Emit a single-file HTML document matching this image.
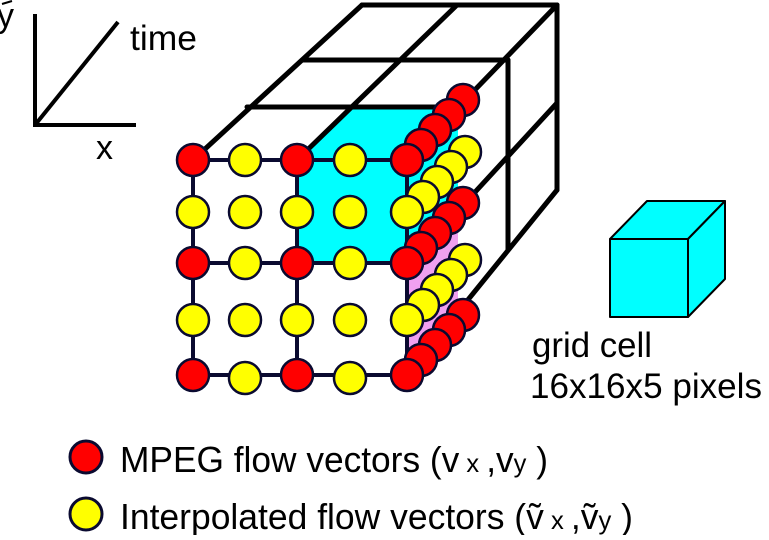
<!DOCTYPE html>
<html><head><style>
body{margin:0;background:#fff;}
svg text{font-family:"Liberation Sans",Arial,sans-serif;fill:#000;}
</style></head><body>
<svg width="769" height="535" viewBox="0 0 769 535" xmlns="http://www.w3.org/2000/svg">
<!-- axes -->
<g stroke="#000" stroke-width="4" fill="none">
<line x1="35" y1="14" x2="35" y2="127"/>
<line x1="33" y1="125" x2="136" y2="125"/>
<line x1="35" y1="125" x2="118" y2="22"/>
<path d="M2 4 L12 1" stroke-width="2"/>
</g>
<text x="-3" y="27" font-size="34">y</text>
<text x="130" y="50" font-size="35" textLength="67" lengthAdjust="spacingAndGlyphs">time</text>
<text x="96" y="159" font-size="34">x</text>

<!-- cyan block -->
<polygon points="297,160 352,107 458,107 458,210 407,263 297,263" fill="#00ffff"/>
<polygon points="407,263 458,210 458,320 407,375" fill="#f0a0f0"/>

<!-- black wireframe -->
<g stroke="#000" stroke-width="5" fill="none" stroke-linecap="round">
<line x1="362" y1="5" x2="557" y2="5"/>
<line x1="303" y1="60" x2="508" y2="60"/>
<line x1="247" y1="107" x2="458" y2="107"/>
<line x1="193" y1="160" x2="362" y2="5"/>
<line x1="297" y1="160" x2="457" y2="5"/>
<line x1="407" y1="160" x2="557" y2="5"/>
<line x1="557" y1="5" x2="557" y2="190"/>
<line x1="508" y1="60" x2="508" y2="250"/>
<line x1="407" y1="266" x2="557" y2="103"/>
<line x1="407" y1="375" x2="557" y2="190"/>
</g>
<!-- front grid -->
<g stroke="#0a0a30" stroke-width="4" fill="none">
<line x1="193" y1="160" x2="407" y2="160"/>
<line x1="193" y1="263" x2="407" y2="263"/>
<line x1="193" y1="375" x2="407" y2="375"/>
<line x1="193" y1="160" x2="193" y2="375"/>
<line x1="297" y1="160" x2="297" y2="375"/>
<line x1="407" y1="160" x2="407" y2="375"/>
</g>

<g stroke="#0a0a30" stroke-width="2.5">
<g fill="#ff0000">
<circle cx="463" cy="100" r="16"/><circle cx="449" cy="115" r="16"/><circle cx="435" cy="130" r="16"/><circle cx="421" cy="145" r="16"/>
</g>
<g fill="#ffff00">
<circle cx="465" cy="152" r="16"/><circle cx="451" cy="167" r="16"/><circle cx="437" cy="182" r="16"/><circle cx="423" cy="197" r="16"/>
</g>
<g fill="#ff0000">
<circle cx="463" cy="203" r="16"/><circle cx="449" cy="218" r="16"/><circle cx="435" cy="233" r="16"/><circle cx="421" cy="248" r="16"/>
</g>
<g fill="#ffff00">
<circle cx="465" cy="260" r="16"/><circle cx="451" cy="275" r="16"/><circle cx="437" cy="290" r="16"/><circle cx="423" cy="305" r="16"/>
</g>
<g fill="#ff0000">
<circle cx="463" cy="315" r="16"/><circle cx="449" cy="330" r="16"/><circle cx="435" cy="345" r="16"/><circle cx="421" cy="360" r="16"/>
</g>
<g fill="#ff0000">
<circle cx="193" cy="160" r="16"/><circle cx="297" cy="160" r="16"/><circle cx="407" cy="160" r="16"/>
<circle cx="193" cy="263" r="16"/><circle cx="297" cy="263" r="16"/><circle cx="407" cy="263" r="16"/>
<circle cx="193" cy="375" r="16"/><circle cx="297" cy="375" r="16"/><circle cx="407" cy="375" r="16"/>
</g>
<g fill="#ffff00">
<circle cx="245" cy="160" r="16"/><circle cx="350" cy="160" r="16"/>
<circle cx="193" cy="212" r="16"/><circle cx="245" cy="212" r="16"/><circle cx="297" cy="212" r="16"/><circle cx="350" cy="212" r="16"/><circle cx="407" cy="212" r="16"/>
<circle cx="245" cy="263" r="16"/><circle cx="350" cy="263" r="16"/>
<circle cx="193" cy="320" r="16"/><circle cx="245" cy="320" r="16"/><circle cx="297" cy="320" r="16"/><circle cx="350" cy="320" r="16"/><circle cx="407" cy="320" r="16"/>
<circle cx="245" cy="378" r="16"/><circle cx="350" cy="378" r="16"/>
</g>
</g>

<!-- small cube -->
<g stroke="#000" stroke-width="2" fill="#00ffff" stroke-linejoin="round">
<polygon points="610,239 647,201 725,201 688,239"/>
<polygon points="688,239 725,201 725,279 688,317"/>
<rect x="610" y="239" width="78" height="78"/>
</g>
<text x="532" y="357" font-size="35" textLength="120" lengthAdjust="spacingAndGlyphs">grid cell</text>
<text x="530" y="398" font-size="35" textLength="232" lengthAdjust="spacingAndGlyphs">16x16x5 pixels</text>

<!-- legend -->
<circle cx="86" cy="457" r="16" fill="#ff0000" stroke="#0a0a30" stroke-width="3"/>
<circle cx="86" cy="514" r="16" fill="#ffff00" stroke="#0a0a30" stroke-width="3"/>
<text x="120" y="472" font-size="36" textLength="428" lengthAdjust="spacingAndGlyphs">MPEG flow vectors (v<tspan font-size="26"> x </tspan>,v<tspan font-size="26">y</tspan> )</text>
<text x="120" y="529" font-size="36" textLength="513" lengthAdjust="spacingAndGlyphs">Interpolated flow vectors (ṽ<tspan font-size="26"> x </tspan>,ṽ<tspan font-size="26">y</tspan> )</text>
</svg>
</body></html>
